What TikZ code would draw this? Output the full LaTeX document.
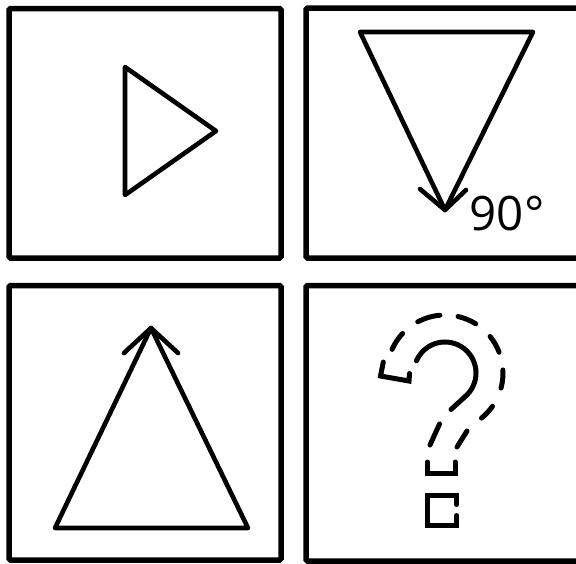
\documentclass[tikz,border=0pt]{standalone}
\usepackage{fontspec}
\usetikzlibrary{calc}
\newfontfamily\labelfont{Open Sans}
\tikzset{
  panel/.style={draw=black, line width=5.5pt, rounded corners=1.5pt},
  shapeline/.style={draw=black, line width=4.6pt, line join=round, line cap=round},
  qline/.style={draw=black, line width=5pt, line join=miter, line cap=round},
}
\begin{document}
\begin{tikzpicture}[x=1pt,y=-1pt]
\useasboundingbox (0,0) rectangle (576,563);
% panels
\draw[panel] (9,8.5) rectangle (281,258);
\draw[panel] (306,8) rectangle (579,258);
\draw[panel] (9,285.5) rectangle (281,560);
\draw[panel] (306,285.5) rectangle (579,561);
% panel 1: triangle pointing right
\draw[shapeline] (125,67) -- (125,195) -- (216,131) -- cycle;
% panel 2: inverted triangle with arrow
\coordinate (t2a) at (360,32);
\coordinate (t2b) at (533,32);
\coordinate (t2c) at (445,210);
\draw[shapeline] (t2a) -- (t2b) -- (t2c) -- cycle;
\coordinate (b2l) at (420,189);
\coordinate (b2r) at (466,190);
\draw[shapeline] (b2l) -- (t2c) -- (b2r);
\node[anchor=base west, inner sep=0pt, font=\labelfont\fontsize{47.5}{47.5}\selectfont] (deg) at (469.5,230) {90°};
% panel 3: upright triangle with arrow
\coordinate (t3a) at (151,328);
\coordinate (t3b) at (55,528);
\coordinate (t3c) at (248,528);
\draw[shapeline] (t3a) -- (t3b) -- (t3c) -- cycle;
\coordinate (b3l) at (124,353);
\coordinate (b3r) at (178,353);
\draw[shapeline] (b3l) -- (t3a) -- (b3r);
% panel 4: dashed question mark
\coordinate (qc) at (445,373);
% outer dashes on circle r=58
\foreach \a/\b in {156/137, 118/95, 77/58, 39/21, 3/-15, -35/-51}{
  \draw[qline] ($(qc)+(-\a:58)$) arc[start angle=-\a, end angle=-\b, radius=58];
}
\draw[qline] (467,431) -- (457,447);
% hook at the end of the curl
\draw[qline] (383.3,362) -- (380.5,376) -- (409,381) -- (409.5,373.5);
% inner solid curve
\draw[qline] ($(qc)+(-157:31)$) arc[start angle=-157, end angle=45, radius=31] -- (451,409.5);
\draw[qline] (439.5,424) -- (430,445);
% stem bottom
\draw[qline] (427.3,462) -- (427.3,473.3) -- (455,473.3) -- (455,462);
% dot
\draw[qline] (456.7,504.5) -- (456.7,495) -- (427.3,495) -- (427.3,525) -- (456.7,525) -- (456.7,515.5);
\end{tikzpicture}
\end{document}
